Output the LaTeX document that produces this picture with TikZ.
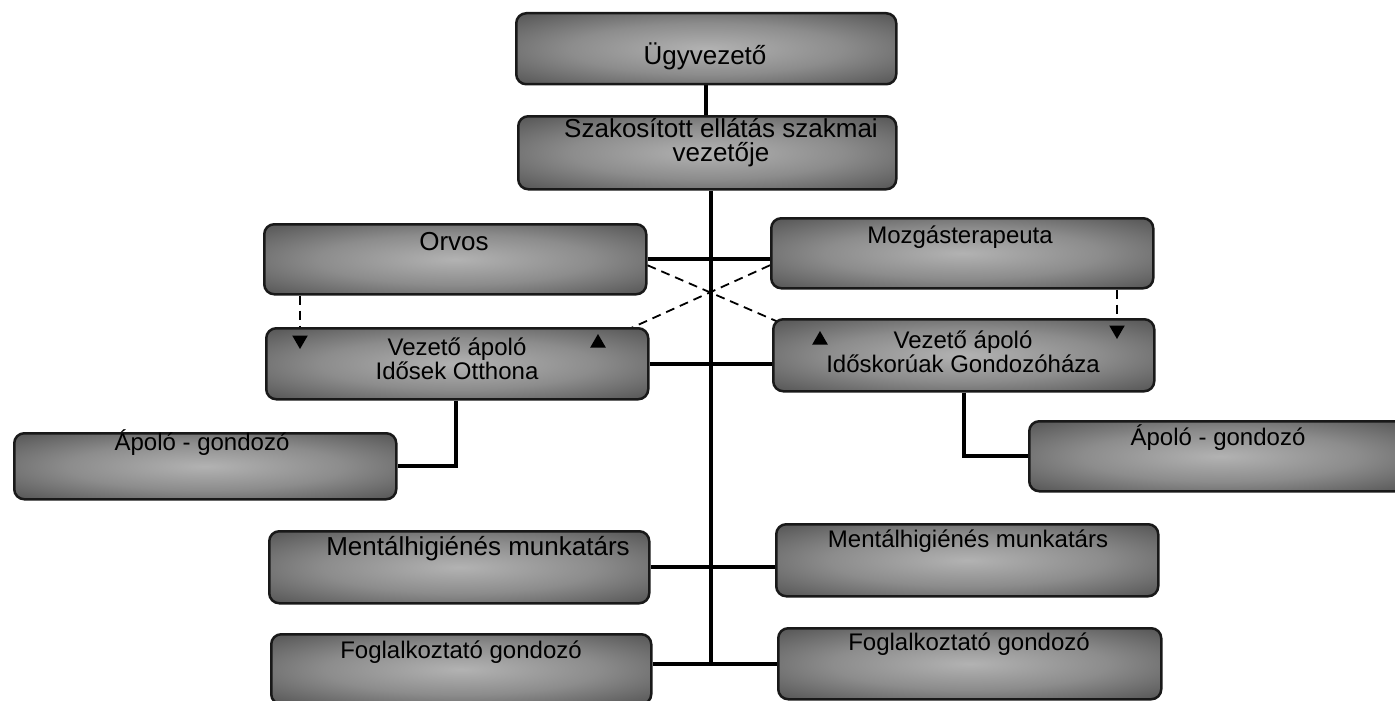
\documentclass[tikz,border=0pt]{standalone}
\usepackage{fontspec}
\setmainfont{Liberation Sans}
\usetikzlibrary{shapes.geometric,calc,backgrounds}
\pgfdeclareradialshading{boxshade}{\pgfpoint{0bp}{0bp}}{color(0bp)=(black!30); color(18bp)=(black!45); color(38bp)=(black!70); color(50bp)=(black!88)}
\begin{document}
\begin{tikzpicture}[x=1pt,y=-1pt,
  box/.style={rectangle, rounded corners=10pt, draw=black!90, line width=2.5pt, shading=boxshade, inner sep=0pt, anchor=north west},
  lbl/.style={font=\fontsize{24}{24}\selectfont, align=center, anchor=base, inner sep=0pt, text=black},
  big/.style={font=\fontsize{26}{24}\selectfont},
  conn/.style={line width=4pt, black},
  dashline/.style={line width=1.8pt, dash pattern=on 9pt off 6pt, black},
  tri/.style={regular polygon, regular polygon sides=3, fill=black, inner sep=0pt, minimum size=18pt}]
\useasboundingbox (0,0) rectangle (1395,701);

% boxes
\node[box, minimum width=380pt, minimum height=71pt] (ugy) at (515,12) {};
\node[box, minimum width=378pt, minimum height=73pt] (szak) at (517,115) {};
\node[box, minimum width=382pt, minimum height=70pt] (orv) at (263,223) {};
\node[box, minimum width=382pt, minimum height=70pt] (moz) at (770,217) {};
\node[box, minimum width=382pt, minimum height=71pt] (vl) at (265,327) {};
\node[box, minimum width=381pt, minimum height=72pt] (vr) at (772,318) {};
\node[box, minimum width=382pt, minimum height=66pt] (al) at (13,432) {};
\node[box, minimum width=382pt, minimum height=70pt] (ar) at (1028,420) {};
\node[box, minimum width=380pt, minimum height=72pt] (ml) at (268,530) {};
\node[box, minimum width=382pt, minimum height=72pt] (mr) at (775,523) {};
\node[box, minimum width=380pt, minimum height=70pt] (fl) at (270,633) {};
\node[box, minimum width=383pt, minimum height=71pt] (fr) at (777,627) {};

% texts (anchor=base is the baseline of the last line)
\node[lbl,big] (tugy) at (705,65) {Ügyvezető};
\node[lbl,big] (tszak) at (721,161) {Szakosított ellátás szakmai\\vezetője};
\node[lbl,big] (torv) at (454,250) {Orvos};
\node[lbl] (tmoz) at (960,243) {Mozgásterapeuta};
\node[lbl] (tvl) at (457,379) {Vezető ápoló\\Idősek Otthona};
\node[lbl] (tvr) at (963,372) {Vezető ápoló\\Időskorúak Gondozóháza};
\node[lbl] (tal) at (202,450) {Ápoló - gondozó};
\node[lbl] (tar) at (1218,445) {Ápoló - gondozó};
\node[lbl,big] (tml) at (478,555) {Mentálhigiénés munkatárs};
\node[lbl] (tmr) at (968,547) {Mentálhigiénés munkatárs};
\node[lbl] (tfl) at (461,658) {Foglalkoztató gondozó};
\node[lbl] (tfr) at (969,650) {Foglalkoztató gondozó};

% arrowheads
\node[tri, shape border rotate=180] (a1) at (300,340) {};
\node[tri, shape border rotate=180] (a2) at (1117,330) {};
\node[tri] (a3) at (820,340) {};
\node[tri] (a4) at (598,343) {};

\coordinate (tb) at (711,662);
\coordinate (lv) at (456,463);

\begin{scope}[on background layer]
  \fill[white] (0,0) rectangle (1395,701);
  % solid connectors
  \draw[conn] (ugy.south) -- (ugy.south |- szak.north);
  \draw[conn] (szak.south -| tb) -- (tb);
  \draw[conn] (orv.east) -- (orv.east -| moz.west);
  \draw[conn] (vl.east) -- (vl.east -| vr.west);
  \draw[conn] (ml.east) -- (ml.east -| mr.west);
  \draw[conn] (fr.west -| fl.east) -- (fr.west);
  \draw[conn] (vl.south -| lv) |- (al.east);
  \draw[conn] (vr.south) |- (ar.west);
  % dashed connectors
  \draw[dashline] (orv.south -| a1) -- (a1);
  \draw[dashline] (moz.south -| a2) -- (a2);
  \draw[dashline] ($(orv.east)+(0,6)$) -- (a3);
  \draw[dashline] ($(moz.west)+(0,12)$) -- (a4);
\end{scope}
\end{tikzpicture}
\end{document}
